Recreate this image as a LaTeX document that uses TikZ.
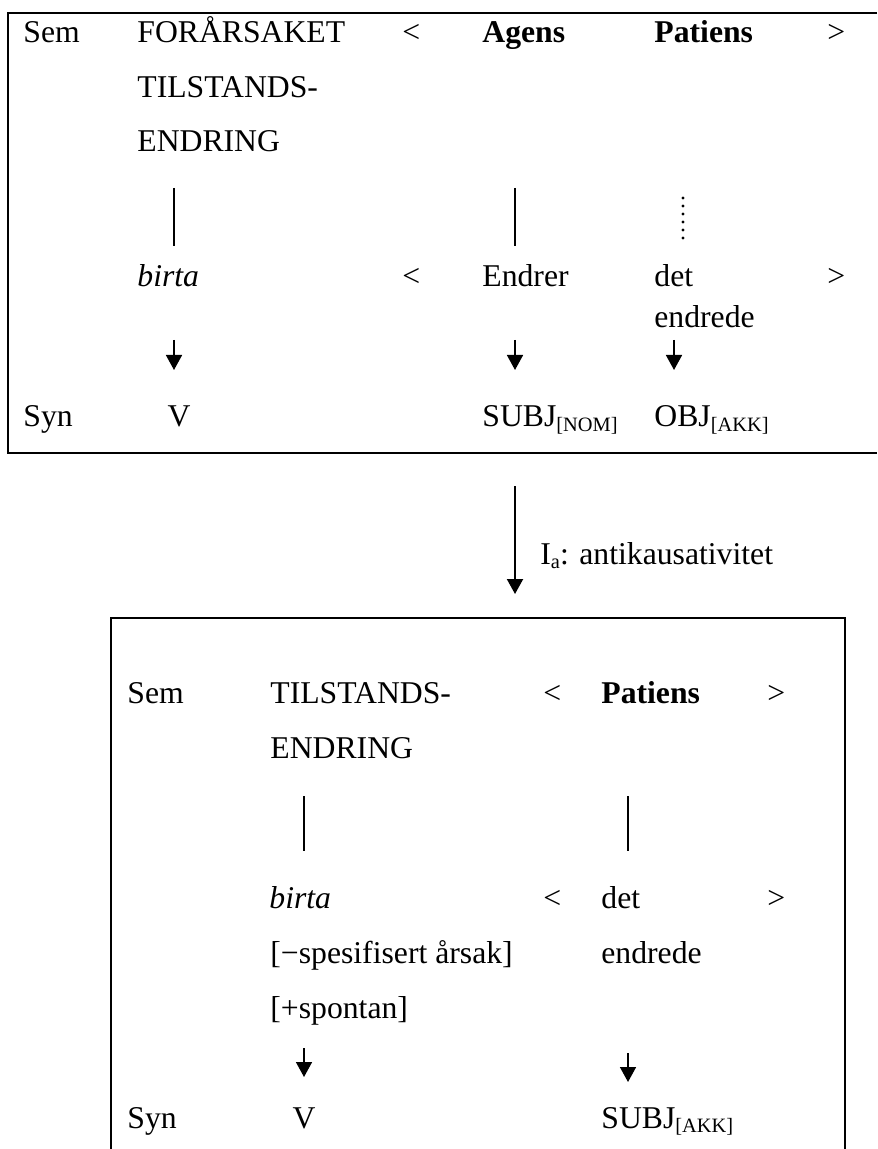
\documentclass[tikz,border=0pt]{standalone}
\usepackage{fontspec}
\setmainfont{Liberation Serif}
\usetikzlibrary{arrows.meta}
\newcommand{\lsub}[1]{\raisebox{-2.4pt}{\fontsize{10.2}{12}\selectfont #1}}
\begin{document}
\begin{tikzpicture}[x=0.5pt,y=-0.5pt,
  txt/.style={anchor=base west, inner sep=0pt, font=\fontsize{15.85}{19}\selectfont},
  ctr/.style={txt, anchor=base},
  bd/.style={txt, font=\fontsize{15.85}{19}\selectfont\bfseries},
  it/.style={txt, font=\fontsize{15.85}{19}\selectfont\itshape},
  frame/.style={line width=1.4pt},
  link/.style={line width=0.8pt},
  dots/.style={line width=1.7pt, line cap=round, dash pattern=on 0pt off 4pt},
  arr/.style={line width=0.8pt, -{Triangle[length=7.5pt,width=8pt]}}]
\useasboundingbox (0,0) rectangle (877,1149);

% ---------- top box ----------
\coordinate (tA) at (877,13);
\coordinate (tB) at (8,13);
\coordinate (tC) at (8,453);
\coordinate (tD) at (877,453);
\draw[frame] (tA) -- (tB) -- (tC) -- (tD);

\node[txt] (sem1) at (23,43) {Sem};
\node[txt] (pred1) at (137,43) {FORÅRSAKET};
\node[txt] (lt1) at (402,43) {<};
\node[bd] (ag1) at (482,43) {Agens};
\node[bd] (pat1) at (654,43) {Patiens};
\node[txt] (gt1) at (827,43) {>};
\node[txt] (ts1) at (137,98) {TILSTANDS-};
\node[txt] (en1) at (137,152) {ENDRING};

\node[it] (birta1) at (137,287) {birta};
\node[txt] (lt1b) at (402,287) {<};
\node[txt] (endrer1) at (482,287) {Endrer};
\node[txt] (det1) at (654,287) {det};
\node[txt] (gt1b) at (827,287) {>};
\node[txt] (endrede1) at (654,328) {endrede};

\node[txt] (syn1) at (23,427) {Syn};
\node[ctr] (v1) at (179,427) {V};
\node[txt] (subj1) at (482,427) {SUBJ\lsub{[NOM]}};
\node[txt] (obj1) at (654,427) {OBJ\lsub{[AKK]}};

\coordinate (l1a) at (174,188); \coordinate (l1b) at (174,246);
\coordinate (l2a) at (515,188); \coordinate (l2b) at (515,246);
\coordinate (l3a) at (683,198); \coordinate (l3b) at (683,239);
\draw[link] (l1a) -- (l1b);
\draw[link] (l2a) -- (l2b);
\draw[dots] (l3a) -- (l3b);

\coordinate (a1a) at (174,340); \coordinate (a1b) at (174,370);
\coordinate (a2a) at (515,340); \coordinate (a2b) at (515,370);
\coordinate (a3a) at (674,340); \coordinate (a3b) at (674,370);
\draw[arr] (a1a) -- (a1b);
\draw[arr] (a2a) -- (a2b);
\draw[arr] (a3a) -- (a3b);

% ---------- transition ----------
\coordinate (ma) at (515,486); \coordinate (mb) at (515,594);
\draw[arr, line width=1pt] (ma) -- (mb);
\node[txt] (ia) at (540,564) {I\lsub{a}: antikausativitet};

% ---------- bottom box ----------
\coordinate (bA) at (111,1152);
\coordinate (bB) at (111,618);
\coordinate (bC) at (845,618);
\coordinate (bD) at (845,1152);
\draw[frame] (bA) -- (bB) -- (bC) -- (bD);

\node[txt] (sem2) at (127,703) {Sem};
\node[txt] (ts2) at (270,703) {TILSTANDS-};
\node[txt] (lt2) at (543,703) {<};
\node[bd] (pat2) at (601,703) {Patiens};
\node[txt] (gt2) at (767,703) {>};
\node[txt] (en2) at (270,758) {ENDRING};

\node[it] (birta2) at (269,908) {birta};
\node[txt] (lt2b) at (543,908) {<};
\node[txt] (det2) at (601,908) {det};
\node[txt] (gt2b) at (767,908) {>};
\node[txt] (spes) at (270,963) {[−spesifisert årsak]};
\node[txt] (endrede2) at (601,963) {endrede};
\node[txt] (spon) at (270,1018) {[+spontan]};

\node[txt] (syn2) at (127,1128) {Syn};
\node[ctr] (v2) at (304,1128) {V};
\node[txt] (subj2) at (601,1128) {SUBJ\lsub{[AKK]}};

\coordinate (m1a) at (304,796); \coordinate (m1b) at (304,851);
\coordinate (m2a) at (628,796); \coordinate (m2b) at (628,851);
\draw[link] (m1a) -- (m1b);
\draw[link] (m2a) -- (m2b);

\coordinate (b1a) at (304,1048); \coordinate (b1b) at (304,1077);
\coordinate (b2a) at (628,1053); \coordinate (b2b) at (628,1082);
\draw[arr] (b1a) -- (b1b);
\draw[arr] (b2a) -- (b2b);
\end{tikzpicture}
\end{document}
